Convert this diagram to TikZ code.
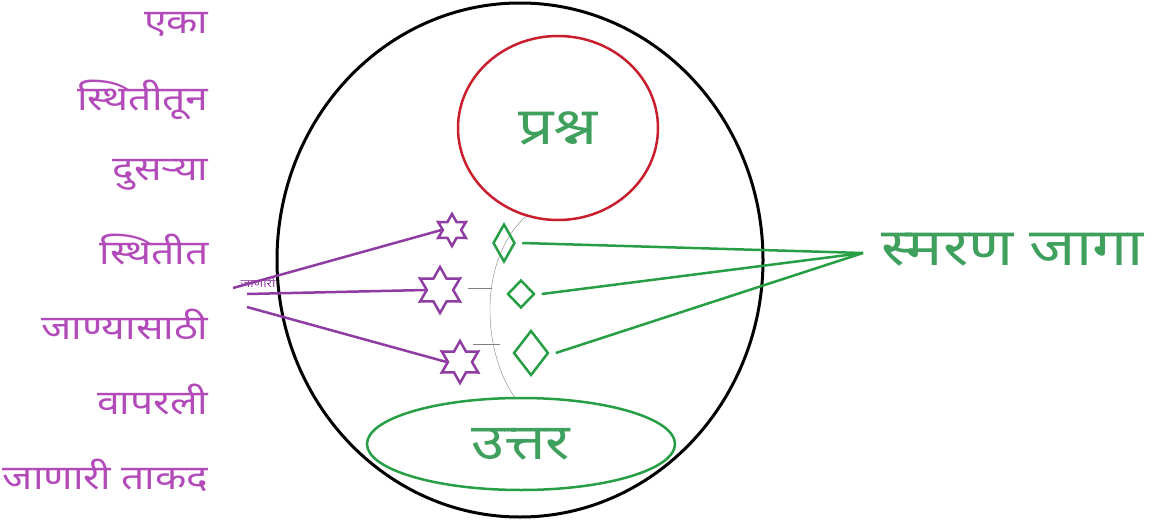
\documentclass[tikz,border=0pt]{standalone}
\usepackage{fontspec}
\newfontfamily\deva[Script=Devanagari,FakeStretch=1.2]{Noto Sans}
\usetikzlibrary{shapes.geometric}
\definecolor{lbl}{RGB}{178,74,186}
\definecolor{vio}{RGB}{142,60,162}
\definecolor{grn}{RGB}{38,158,68}
\definecolor{gtxt}{RGB}{62,160,92}
\definecolor{rd}{RGB}{200,30,45}
\begin{document}
\begin{tikzpicture}[x=1pt,y=-1pt,
  word/.style={text=lbl,anchor=east,font=\deva\fontsize{34}{34}\selectfont},
  mark6/.style={star,star points=6,star point ratio=1.75,draw=vio,line width=2.5pt,inner sep=0pt},
  kite/.style={diamond,draw=grn,line width=2.5pt,inner sep=0pt}]
\useasboundingbox (0,0) rectangle (1165,527);
% left column
\foreach \j/\ty/\txt in {1/25/एका,2/100/स्थितीतून,3/175/दुसऱ्या,4/250/स्थितीत,5/325/जाण्यासाठी,6/400/वापरली,7/475/जाणारी ताकद}{
 \node[word] (w\j) at (212,\ty) {\txt};
}
% circles
\node[ellipse,draw,line width=3pt,minimum width=486pt,minimum height=514pt] (world) at (520,260) {};
\node[ellipse,draw=rd,line width=2.5pt,minimum width=200pt,minimum height=184pt,text=gtxt,font=\deva\fontsize{52}{52}\selectfont] (q) at (558,128) {प्रश्न};
\node[ellipse,draw=grn,line width=2.5pt,minimum width=308pt,minimum height=92pt,text=gtxt,font=\deva\fontsize{50}{50}\selectfont] (ans) at (521,444) {उत्तर};
% path from question to answer
\draw[gray,thin] (q.250) .. controls (478,260) and (482,350) .. (ans.98);
\draw[gray,thin] (468,288)--(492,288);
\draw[gray,thin] (473,344)--(500,344);
% stars and diamonds
\foreach \j/\x/\y/\s in {1/452/230/32,2/440/290/46,3/460/362/42}{
 \node[mark6,minimum size=\s pt] (s\j) at (\x,\y) {};
}
\foreach \j/\x/\y/\w/\h in {1/504/243/22/38,2/521/294/27/28,3/531/353/35/45}{
 \node[kite,minimum width=\w pt,minimum height=\h pt] (d\j) at (\x,\y) {};
}
% lines
\coordinate (m) at (863,253);
\foreach \j in {1,2,3}{\draw[grn,line width=2.5pt] (d\j.east)++(6,0) -- (m);}
\coordinate (p1) at (233,288);
\coordinate (p2) at (247,294);
\coordinate (p3) at (247,307);
\draw[vio,line width=2.5pt] (p1) -- (s1.west);
\draw[vio,line width=2.5pt] (p2) -- (s2.west);
\draw[vio,line width=2.5pt] (p3) -- (s3.west);
\node[text=vio,font=\deva\fontsize{11}{11}\selectfont,inner sep=0pt] (tiny) at (258,283) {जाणारी};
\node[text=gtxt,anchor=west,font=\deva\fontsize{52}{52}\selectfont] (mem) at (878,250) {स्मरण जागा};
\end{tikzpicture}
\end{document}
